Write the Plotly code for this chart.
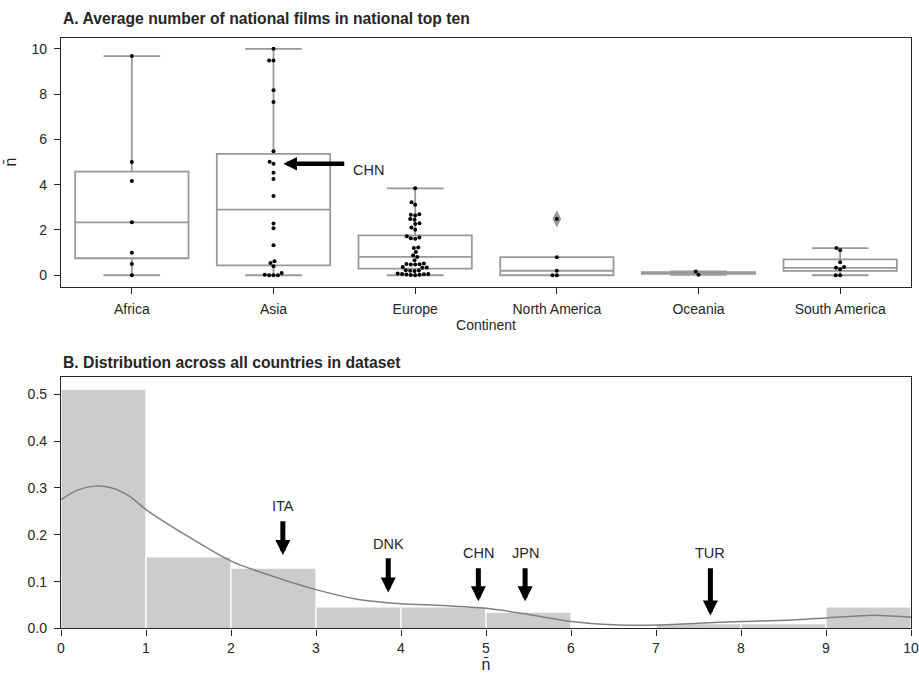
import math
import plotly.graph_objects as go

# ---------------- data ----------------
continents = ["Africa", "Asia", "Europe", "North America", "Oceania", "South America"]

africa = [9.68, 5.00, 4.16, 2.34, 0.99, 0.50, 0.00]
asia = [10.00, 9.49, 9.49, 8.17, 7.65, 5.48, 5.01, 4.92, 4.53, 4.25, 3.50, 2.29, 2.08,
        1.33, 0.62, 0.54, 0.40, 0.10, 0.02, 0.00, 0.00, 0.00]
europe = [3.84, 3.22, 3.11, 2.70, 2.67, 2.64, 2.48, 2.45, 2.30, 2.26, 2.11, 2.01,
          1.72, 1.67, 1.64, 1.61, 1.23, 1.20, 1.03, 0.88, 0.81, 0.66,
          0.52, 0.50, 0.49, 0.48, 0.47, 0.36, 0.34, 0.33,
          0.22, 0.21, 0.20, 0.19, 0.08, 0.06, 0.05, 0.04, 0.03, 0.02, 0.01, 0.00]
north_america = [2.49, 0.80, 0.20, 0.00, 0.00]
oceania = [0.17, 0.02]
south_america = [1.20, 1.10, 0.57, 0.36, 0.33, 0.27, 0.00, 0.00]
continent_values = [africa, asia, europe, north_america, oceania, south_america]

# box statistics
box_q1 = [0.75, 0.44, 0.29, 0.00, 0.06, 0.19]
box_median = [2.34, 2.90, 0.81, 0.20, 0.10, 0.33]
box_q3 = [4.58, 5.36, 1.76, 0.80, 0.14, 0.70]
box_lower = [0.00, 0.00, 0.00, 0.00, 0.02, 0.00]
box_upper = [9.68, 10.00, 3.84, 0.80, 0.17, 1.20]
outlier_continent = ["North America"]
outlier_value = [2.49]

# histogram (density) and KDE
hist_edges = [0, 1, 2, 3, 4, 5, 6, 7, 8, 9, 10]
hist_density = [0.511, 0.153, 0.129, 0.046, 0.046, 0.035, 0.0, 0.0105, 0.0105, 0.046]
kde_x = [0, 0.2, 0.4, 0.6, 0.8, 1.0, 1.5, 2.0, 2.5, 3.0, 3.5, 4.0, 4.5, 5.0, 5.5,
         6.0, 6.5, 7.0, 7.5, 8.0, 8.5, 9.0, 9.5, 10.0]
kde_y = [0.275, 0.296, 0.304, 0.300, 0.283, 0.254, 0.196, 0.144, 0.111, 0.083, 0.062,
         0.053, 0.049, 0.043, 0.030, 0.015, 0.008, 0.0075, 0.011, 0.015, 0.0175, 0.0225,
         0.028, 0.024]

# highlighted countries in panel B
hl_countries = ["ITA", "DNK", "CHN", "JPN", "TUR"]
hl_values = [2.61, 3.85, 4.91, 5.46, 7.64]

# ---------------- helpers ----------------
AX_COL = "#262626"
BOX_COL = "#999999"
FONT = "Liberation Sans, Arial, sans-serif"

H, W = 677, 919
ML, MR = 61, 7
top_dom = [1 - 290 / H, 1 - 38 / H]
bot_dom = [1 - 636 / H, 1 - 382 / H]
x_px_per_unit = (W - ML - MR) / 6.0
y_px_per_unit = (290 - 38) / 11.0


def swarm_offsets(vals, d=4.4):
    order = sorted(range(len(vals)), key=lambda i: vals[i])
    placed = []
    offs = [0.0] * len(vals)
    for i in order:
        y = vals[i] * y_px_per_unit
        cands = [0.0]
        for px, py in placed:
            dy = y - py
            if abs(dy) < d:
                dx = math.sqrt(d * d - dy * dy)
                cands += [px + dx, px - dx]
        cands.sort(key=lambda c: (abs(c), c))
        for c in cands:
            if all((c - px) ** 2 + (y - py) ** 2 >= d * d - 1e-6 for px, py in placed):
                placed.append((c, y))
                offs[i] = c / x_px_per_unit
                break
    return offs


fig = go.Figure()

# ---------------- panel A ----------------
positions = list(range(len(continents)))
fig.add_trace(go.Box(
    x=positions, q1=box_q1, median=box_median, q3=box_q3,
    lowerfence=box_lower, upperfence=box_upper,
    width=0.8, whiskerwidth=0.5, fillcolor="white",
    line=dict(color=BOX_COL, width=1.8), boxpoints=False,
    xaxis="x", yaxis="y", showlegend=False, hoverinfo="skip"))

fig.add_trace(go.Scatter(
    x=[continents.index(c) for c in outlier_continent], y=outlier_value,
    mode="markers", marker=dict(symbol="diamond-tall", size=11, color=BOX_COL,
                                line=dict(color="#8a8a8a", width=0.8)),
    xaxis="x", yaxis="y", showlegend=False, hoverinfo="skip"))

sx, sy = [], []
for pos, vals in zip(positions, continent_values):
    offs = swarm_offsets(vals)
    sx += [pos + o for o in offs]
    sy += vals
fig.add_trace(go.Scatter(
    x=sx, y=sy, mode="markers",
    marker=dict(size=4, color="black", line=dict(width=0)),
    xaxis="x", yaxis="y", showlegend=False, hoverinfo="skip"))

# ---------------- panel B ----------------
centers = [(a + b) / 2 for a, b in zip(hist_edges[:-1], hist_edges[1:])]
widths = [b - a for a, b in zip(hist_edges[:-1], hist_edges[1:])]
fig.add_trace(go.Bar(
    x=centers, y=hist_density, width=widths,
    marker=dict(color="#cccccc", line=dict(color="white", width=1.2)),
    xaxis="x2", yaxis="y2", showlegend=False, hoverinfo="skip"))
fig.add_trace(go.Scatter(
    x=kde_x, y=kde_y, mode="lines",
    line=dict(color="#808080", width=1.5, shape="spline", smoothing=0.8),
    xaxis="x2", yaxis="y2", showlegend=False, hoverinfo="skip"))

# ---------------- annotations ----------------
annotations = []
title_font = dict(family=FONT, size=15.7, color=AX_COL)
annotations.append(dict(text="<b>A. Average number of national films in national top ten</b>",
                        xref="paper", yref="paper", x=0, y=1 - 19 / H, xanchor="left",
                        yanchor="middle", showarrow=False, font=title_font))
annotations.append(dict(text="<b>B. Distribution across all countries in dataset</b>",
                        xref="paper", yref="paper", x=0, y=1 - 367 / H, xanchor="left",
                        yanchor="middle", showarrow=False, font=title_font))

lab_font = dict(family=FONT, size=14.5, color=AX_COL)
# CHN arrow in panel A
chn_val = asia[7]
annotations.append(dict(x=1.07, y=chn_val, ax=1.51, ay=chn_val, xref="x", yref="y",
                        axref="x", ayref="y", text="", showarrow=True, arrowhead=2,
                        arrowsize=0.6, arrowwidth=4.5, arrowcolor="black", standoff=0))
annotations.append(dict(x=1.545, y=chn_val - 0.25, xref="x", yref="y", text="CHN",
                        xanchor="left", yanchor="middle", showarrow=False, font=lab_font))

tip_y = [0.157, 0.077, 0.058, 0.058, 0.028]
tail_y = [0.232, 0.153, 0.132, 0.132, 0.132]
text_y = [0.262, 0.181, 0.162, 0.162, 0.162]
for lab, v, ty, tl, tx in zip(hl_countries, hl_values, tip_y, tail_y, text_y):
    annotations.append(dict(x=v, y=ty, ax=v, ay=tl, xref="x2", yref="y2", axref="x2",
                            ayref="y2", text="", showarrow=True, arrowhead=2,
                            arrowsize=0.6, arrowwidth=5, arrowcolor="black", standoff=0))
    annotations.append(dict(x=v, y=tx, xref="x2", yref="y2", text=lab, showarrow=False,
                            xanchor="center", yanchor="middle", font=lab_font))

axis_common = dict(showline=True, mirror=True, linecolor=AX_COL, linewidth=1.25,
                   ticks="outside", ticklen=6, tickwidth=1.25, tickcolor=AX_COL,
                   showgrid=False, zeroline=False, ticklabeloverflow="allow",
                   tickfont=dict(family=FONT, size=14, color=AX_COL),
                   title_font=dict(family=FONT, size=14, color=AX_COL))

fig.update_layout(
    width=W, height=H,
    margin=dict(l=ML, r=MR, t=0, b=0),
    paper_bgcolor="white", plot_bgcolor="white",
    font=dict(family=FONT, color=AX_COL),
    annotations=annotations,
    xaxis=dict(domain=[0, 1], anchor="y", range=[-0.5, 5.5], tickvals=positions,
               ticktext=continents, ticklabelstandoff=4,
               title=dict(text="Continent", standoff=3), **axis_common),
    yaxis=dict(domain=top_dom, anchor="x", range=[-0.5, 10.5], tickvals=[0, 2, 4, 6, 8, 10],
               ticklabelstandoff=4, title=dict(text="n\u0304", standoff=10,
                                                font=dict(family=FONT, size=16, color=AX_COL)),
               **{k: v for k, v in axis_common.items() if k != "title_font"}),
    xaxis2=dict(domain=[0, 1], anchor="y2", range=[0, 10], tickvals=hist_edges,
                ticklabelstandoff=1,
                title=dict(text="n\u0304", standoff=0,
                           font=dict(family=FONT, size=16, color=AX_COL)),
                **{k: v for k, v in axis_common.items() if k != "title_font"}),
    yaxis2=dict(domain=bot_dom, anchor="x2", range=[0, 0.536],
                tickvals=[0, 0.1, 0.2, 0.3, 0.4, 0.5], tickformat=".1f",
                ticklabelstandoff=4, **axis_common),
)

fig.write_html("out.html")
